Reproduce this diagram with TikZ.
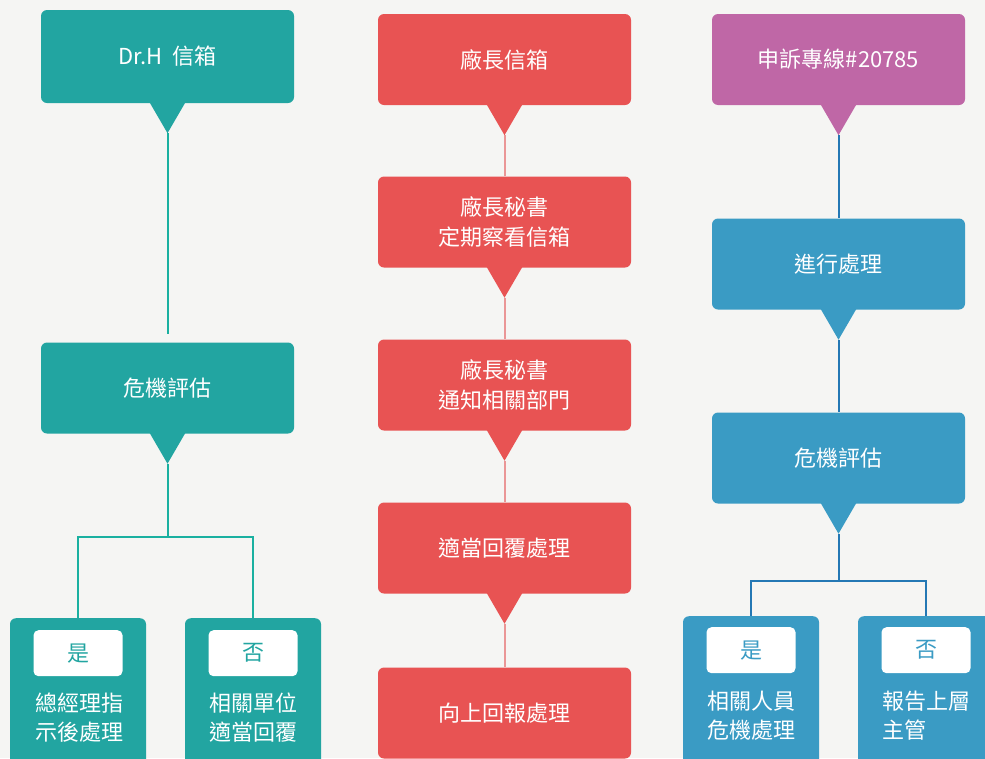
\documentclass[tikz,border=0pt]{standalone}
\usepackage{fontspec}
\setmainfont{Noto Sans CJK TC}
\usetikzlibrary{positioning}

\definecolor{bgc}{RGB}{245,245,243}
\definecolor{tealc}{RGB}{34,165,161}
\definecolor{teall}{RGB}{26,176,160}
\definecolor{redc}{RGB}{232,83,83}
\definecolor{redl}{RGB}{234,150,150}
\definecolor{purplec}{RGB}{191,103,166}
\definecolor{bluec}{RGB}{58,155,196}
\definecolor{bluel}{RGB}{36,120,180}

\tikzset{
  box/.style={rounded corners=6pt, minimum width=253pt, minimum height=91pt, inner sep=0pt,
    text=white, align=center, font=\fontsize{22}{30}\selectfont},
  leaf/.style={rounded corners=6pt, minimum width=136pt, minimum height=160pt, inner sep=0pt, anchor=north},
  tag/.style={fill=white, rounded corners=5pt, minimum width=89pt, minimum height=46pt, inner sep=0pt,
    anchor=north, font=\fontsize{22}{30}\selectfont},
  leaftext/.style={anchor=west, align=left, inner sep=0pt, text=white, font=\fontsize{22}{29}\selectfont},
  link/.style={line width=2pt}
}
\newcommand{\tip}[2]{\fill[#2] ([xshift=-18pt,yshift=1pt]#1.south) -- ([xshift=18pt,yshift=1pt]#1.south)
  -- ([yshift=-30pt]#1.south) coordinate (#1-tip) -- cycle;}

\begin{document}
\begin{tikzpicture}[x=1pt,y=-1pt]
\useasboundingbox (0,0) rectangle (985,758);
\clip (0,0) rectangle (985,758);
\fill[bgc] (0,0) rectangle (985,758);

% Dr.H
\node[box, fill=tealc, minimum height=93pt] (drh) at (167.5,56.5) {Dr.H\ \ 信箱};
\tip{drh}{tealc}
\node[box, fill=tealc] (evalA) at (167.5,388) {危機評估};
\tip{evalA}{tealc}
\coordinate (forkA) at (167.5,537);

\node[leaf, fill=tealc] (yesA) at (78,618) {};
\node[tag, text=tealc] (yesAtag) at ([yshift=-12pt]yesA.north) {是};
\node[leaftext] at (35,718) {總經理指\\示後處理};
\node[leaf, fill=tealc] (noA) at (253,618) {};
\node[tag, text=tealc] (noAtag) at ([yshift=-12pt]noA.north) {否};
\node[leaftext] at (209,718) {相關單位\\適當回覆};

\draw[link, teall, shorten >=8pt] (drh-tip) -- (evalA.north);
\draw[link, teall] (evalA-tip) -- (forkA) -| (yesA.north);
\draw[link, teall] (forkA) -| (noA.north);

% factory manager
\node[box, fill=redc] (mgr) at (504.5,59.5) {廠長信箱};
\tip{mgr}{redc}
\node[box, fill=redc] (sec1) at (504.5,222) {廠長秘書\\定期察看信箱};
\tip{sec1}{redc}
\node[box, fill=redc] (sec2) at (504.5,385) {廠長秘書\\通知相關部門};
\tip{sec2}{redc}
\node[box, fill=redc] (reply) at (504.5,548) {適當回覆處理};
\tip{reply}{redc}
\node[box, fill=redc] (report) at (504.5,713) {向上回報處理};

\draw[link, redl] (mgr-tip) -- (sec1.north);
\draw[link, redl] (sec1-tip) -- (sec2.north);
\draw[link, redl] (sec2-tip) -- (reply.north);
\draw[link, redl] (reply-tip) -- (report.north);

% hotline
\node[box, fill=purplec] (hotline) at (838.5,59.5) {申訴專線\#20785};
\tip{hotline}{purplec}
\node[box, fill=bluec] (handle) at (838.5,264) {進行處理};
\tip{handle}{bluec}
\node[box, fill=bluec] (evalB) at (838.5,458) {危機評估};
\tip{evalB}{bluec}
\coordinate (forkB) at (838.5,581);

\node[leaf, fill=bluec] (yesB) at (751,616) {};
\node[tag, text=bluec] (yesBtag) at ([yshift=-11pt]yesB.north) {是};
\node[leaftext] at (707,716) {相關人員\\危機處理};
\node[leaf, fill=bluec] (noB) at (926,616) {};
\node[tag, text=bluec] (noBtag) at ([yshift=-11pt]noB.north) {否};
\node[leaftext] at (882,716) {報告上層\\主管};

\draw[link, bluel] (hotline-tip) -- (handle.north);
\draw[link, bluel] (handle-tip) -- (evalB.north);
\draw[link, bluel] (evalB-tip) -- (forkB) -| (yesB.north);
\draw[link, bluel] (forkB) -| (noB.north);
\end{tikzpicture}
\end{document}
